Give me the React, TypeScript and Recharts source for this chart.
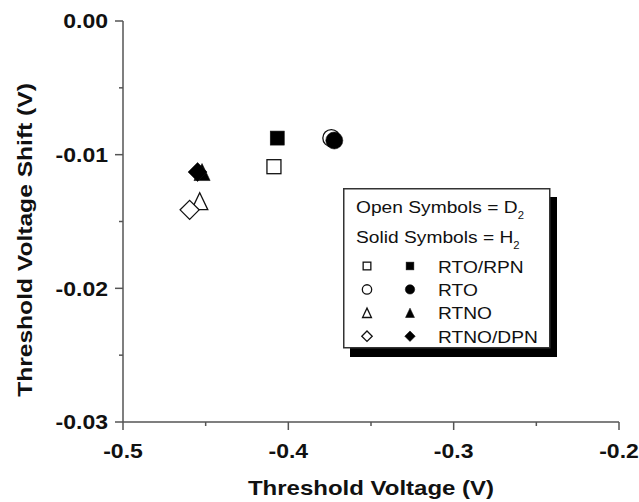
import { ScatterChart, Scatter, XAxis, YAxis, Legend } from 'recharts';

// series (one point each): open symbols = D2 anneal, solid symbols = H2 anneal
const seriesNames = ['RTO/RPN', 'RTO', 'RTNO', 'RTNO/DPN'];
const seriesShapes = ['square', 'circle', 'triangle', 'diamond'];

const d2Voltage = [-0.4087, -0.374, -0.4536, -0.4597];
const d2Shift = [-0.0109, -0.00876, -0.01348, -0.01413];

const h2Voltage = [-0.4067, -0.3722, -0.4522, -0.4549];
const h2Shift = [-0.00876, -0.00894, -0.0113, -0.0113];

const voltageTicks = [-0.5, -0.45, -0.4, -0.35, -0.3, -0.25, -0.2];
const shiftTicks = [0, -0.005, -0.01, -0.015, -0.02, -0.025, -0.03];

const FONT = '"Liberation Sans", Arial, Helvetica, sans-serif';
const AXIS = '#555';

const markerSize: Record<string, number> = { square: 7, circle: 8.5, triangle: 8.5, diamond: 9.5 };

function Marker({ cx, cy, kind, solid, k = 1 }: any) {
  const s = markerSize[kind] * k;
  const fill = solid ? '#000' : '#fff';
  const stroke = '#111';
  const sw = solid ? 0.6 : 1.3;
  if (kind === 'square') {
    return <rect x={cx - s} y={cy - s} width={2 * s} height={2 * s} fill={fill} stroke={stroke} strokeWidth={sw} />;
  }
  if (kind === 'circle') {
    return <circle cx={cx} cy={cy} r={s} fill={fill} stroke={stroke} strokeWidth={sw} />;
  }
  if (kind === 'triangle') {
    const pts = `${cx},${cy - s} ${cx + s * 0.95},${cy + s} ${cx - s * 0.95},${cy + s}`;
    return <polygon points={pts} fill={fill} stroke={stroke} strokeWidth={sw} strokeLinejoin="miter" />;
  }
  const pts = `${cx},${cy - s} ${cx + s},${cy} ${cx},${cy + s} ${cx - s},${cy}`;
  return <polygon points={pts} fill={fill} stroke={stroke} strokeWidth={sw} />;
}

const isMajor = (v: number, step: number) => Math.abs(v / step - Math.round(v / step)) < 1e-6;

const bottomTick = (props: any) => {
  const { x, y, payload } = props;
  const major = isMajor(payload.value, 0.1);
  return (
    <g>
      <line x1={x} y1={y} x2={x} y2={y + (major ? 8 : 4)} stroke={AXIS} strokeWidth={1.5} />
      {major && (
        <text transform={`translate(${x},${y + 36}) scale(1.15,1)`} textAnchor="middle"
          fontFamily={FONT} fontWeight="bold" fontSize={20} fill="#111">
          {payload.value.toFixed(1)}
        </text>
      )}
    </g>
  );
};

const topTick = (props: any) => {
  const { x, y, payload } = props;
  const major = isMajor(payload.value, 0.1);
  return <line x1={x} y1={y} x2={x} y2={y + (major ? 8 : 4)} stroke={AXIS} strokeWidth={1.5} />;
};

const leftTick = (props: any) => {
  const { x, y, payload } = props;
  const major = isMajor(payload.value, 0.01);
  return (
    <g>
      <line x1={x} y1={y} x2={x - (major ? 8 : 4)} y2={y} stroke={AXIS} strokeWidth={1.5} />
      {major && (
        <text transform={`translate(${x - 15},${y + 7.2}) scale(1.15,1)`} textAnchor="end"
          fontFamily={FONT} fontWeight="bold" fontSize={20} fill="#111">
          {payload.value.toFixed(2)}
        </text>
      )}
    </g>
  );
};

const rightTick = (props: any) => {
  const { x, y, payload } = props;
  const major = isMajor(payload.value, 0.01);
  return <line x1={x} y1={y} x2={x - (major ? 8 : 4)} y2={y} stroke={AXIS} strokeWidth={1.5} />;
};

const xTitle = (props: any) => {
  const { x, y, width } = props.viewBox;
  return (
    <text transform={`translate(${x + width / 2},${y + 72.5}) scale(1.2,1)`} textAnchor="middle"
      fontFamily={FONT} fontWeight="bold" fontSize={20} fill="#111">
      Threshold Voltage (V)
    </text>
  );
};

const yTitle = (props: any) => {
  const { x, y, height } = props.viewBox;
  return (
    <text transform={`translate(${x + 31.5},${y + height / 2 + 18.5}) rotate(-90) scale(1.23,1)`} textAnchor="middle"
      fontFamily={FONT} fontWeight="bold" fontSize={20} fill="#111">
      Threshold Voltage Shift (V)
    </text>
  );
};

function LegendBox() {
  const rowY = (i: number) => 78 + i * 23.4;
  const txt = { fontFamily: FONT, fontSize: 17, fill: '#111' };
  return (
    <svg width={216} height={172} style={{ display: 'block' }}>
      <rect x={7} y={9} width={207} height={160} fill="#000" />
      <rect x={0.75} y={0.75} width={206} height={159} fill="#fff" stroke="#333" strokeWidth={1.5} />
      <text transform="translate(13,24.7) scale(1.13,1)" {...txt}>
        Open Symbols = D<tspan fontSize={10} dy={6.5}>2</tspan>
      </text>
      <text transform="translate(13,54.7) scale(1.13,1)" {...txt}>
        Solid Symbols = H<tspan fontSize={10} dy={6.5}>2</tspan>
      </text>
      {seriesNames.map((name, i) => (
        <g key={name}>
          <Marker cx={24} cy={rowY(i)} kind={seriesShapes[i]} solid={false} k={0.55} />
          <Marker cx={67} cy={rowY(i)} kind={seriesShapes[i]} solid k={0.55} />
          <text transform={`translate(95,${rowY(i) + 6.5}) scale(1.13,1)`} {...txt}>{name}</text>
        </g>
      ))}
    </svg>
  );
}

export default function App() {
  return (
    <div style={{ position: 'absolute', left: 0, top: 0, width: 639, height: 502, background: '#fff' }}>
      <ScatterChart width={639} height={502} margin={{ top: 21, right: 20, bottom: 20, left: 0 }}>
        <XAxis dataKey="x" type="number" domain={[-0.5, -0.2]} ticks={voltageTicks} interval={0}
          height={60} tickSize={0} tickMargin={0} tickLine={false} tick={bottomTick}
          axisLine={{ stroke: AXIS, strokeWidth: 1.5 }} allowDataOverflow label={{ content: xTitle }} />
        <XAxis xAxisId="top" orientation="top" type="number" domain={[-0.5, -0.2]} ticks={voltageTicks}
          interval={0} height={0} tickSize={0} tickMargin={0} tickLine={false} tick={topTick}
          axisLine={{ stroke: AXIS, strokeWidth: 1.5 }} allowDataOverflow />
        <YAxis dataKey="y" type="number" domain={[-0.03, 0]} ticks={shiftTicks} interval={0}
          width={123} tickSize={0} tickMargin={0} tickLine={false} tick={leftTick}
          axisLine={{ stroke: AXIS, strokeWidth: 1.5 }} allowDataOverflow label={{ content: yTitle }} />
        <YAxis yAxisId="right" orientation="right" type="number" domain={[-0.03, 0]} ticks={shiftTicks}
          interval={0} width={0} tickSize={0} tickMargin={0} tickLine={false} tick={rightTick}
          axisLine={{ stroke: AXIS, strokeWidth: 1.5 }} allowDataOverflow />
        {seriesNames.map((name, i) => (
          <Scatter key={'d2' + name} name={name + ' (D2)'} data={[{ x: d2Voltage[i], y: d2Shift[i] }]}
            isAnimationActive={false}
            shape={(p: any) => <Marker cx={p.cx} cy={p.cy} kind={seriesShapes[i]} solid={false} />} />
        ))}
        {seriesNames.map((name, i) => (
          <Scatter key={'h2' + name} name={name + ' (H2)'} data={[{ x: h2Voltage[i], y: h2Shift[i] }]}
            isAnimationActive={false}
            shape={(p: any) => <Marker cx={p.cx} cy={p.cy} kind={seriesShapes[i]} solid />} />
        ))}
        <Legend layout="horizontal" verticalAlign="middle" align="center"
          wrapperStyle={{ left: 343, top: 188, width: 216, height: 172 }}
          content={() => <LegendBox />} />
      </ScatterChart>
    </div>
  );
}
